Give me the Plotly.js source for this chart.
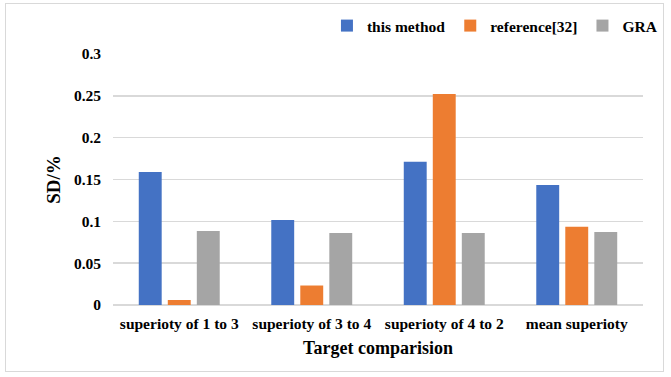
<!DOCTYPE html>
<html>
<head>
<meta charset="utf-8">
<script src="https://cdn.plot.ly/plotly-3.0.1.min.js"></script>
<style>
  html, body { margin: 0; padding: 0; background: #fff; }
  #wrap { position: relative; width: 671px; height: 377px; }
  #chart { position: absolute; left: 0; top: 0; width: 671px; height: 377px; }
  #frame { position: absolute; left: 5px; top: 3px; width: 657px; height: 367px;
           border: 1.5px solid #D9D9D9; pointer-events: none; }
</style>
</head>
<body>
<div id="wrap">
  <div id="chart"></div>
  <div id="frame"></div>
</div>
<script>
const categories = ["superioty of 1 to 3", "superioty of 3 to 4", "superioty of 4 to 2", "mean superioty"];
const seriesNames = ["this method", "reference[32]", "GRA"];
const thisMethod = [0.159, 0.1016, 0.1712, 0.1434];
const reference32 = [0.006, 0.0233, 0.2523, 0.0936];
const gra = [0.0885, 0.0861, 0.0861, 0.0873];
const colors = ["#4472C4", "#ED7D31", "#A5A5A5"];
const yTickVals = [0, 0.05, 0.1, 0.15, 0.2, 0.25, 0.3];
const yTickText = ["0", "0.05", "0.1", "0.15", "0.2", "0.25", "0.3"];

const fontFamily = 'Liberation Serif, Times New Roman, serif';
const values = [thisMethod, reference32, gra];

const traces = values.map((v, i) => ({
  type: 'bar',
  name: seriesNames[i],
  x: categories,
  y: v,
  marker: { color: colors[i] },
  hoverinfo: 'x+y+name'
}));

const layout = {
  width: 671,
  height: 377,
  margin: { l: 113, r: 28, t: 54, b: 72, pad: 0, autoexpand: false },
  paper_bgcolor: '#ffffff',
  plot_bgcolor: '#ffffff',
  font: { family: fontFamily, size: 15, color: '#000000', weight: 'bold' },
  barmode: 'group',
  bargap: 0.343,
  bargroupgap: 0.21,
  showlegend: true,
  legend: {
    orientation: 'h',
    xref: 'container', yref: 'container',
    x: 0.988, xanchor: 'right',
    y: 0.931, yanchor: 'middle',
    font: { family: fontFamily, size: 15.5, color: '#000000', weight: 'bold' },
    bgcolor: 'rgba(0,0,0,0)',
    itemwidth: 30,
    tracegroupgap: 0
  },
  xaxis: {
    type: 'category',
    showgrid: false,
    zeroline: false,
    showline: false,
    ticks: '',
    ticklabelstandoff: 7,
    tickfont: { family: fontFamily, size: 15.5, color: '#000000', weight: 'bold' },
    title: {
      text: 'Target comparision',
      font: { family: fontFamily, size: 18, color: '#000000', weight: 'bold' },
      standoff: 10
    },
    automargin: false
  },
  yaxis: {
    range: [0, 0.3],
    tickvals: yTickVals,
    ticktext: yTickText,
    showgrid: true,
    gridcolor: '#D9D9D9',
    gridwidth: 1.5,
    zeroline: true,
    zerolinecolor: '#D9D9D9',
    zerolinewidth: 1.5,
    showline: false,
    ticks: '',
    ticklabelstandoff: 11,
    tickfont: { family: fontFamily, size: 15.5, color: '#000000', weight: 'bold' },
    title: {
      text: 'SD/%',
      font: { family: fontFamily, size: 19, color: '#000000', weight: 'bold' },
      standoff: 8
    },
    automargin: false
  }
};

Plotly.newPlot('chart', traces, layout, { displayModeBar: false, staticPlot: true });
</script>
</body>
</html>
